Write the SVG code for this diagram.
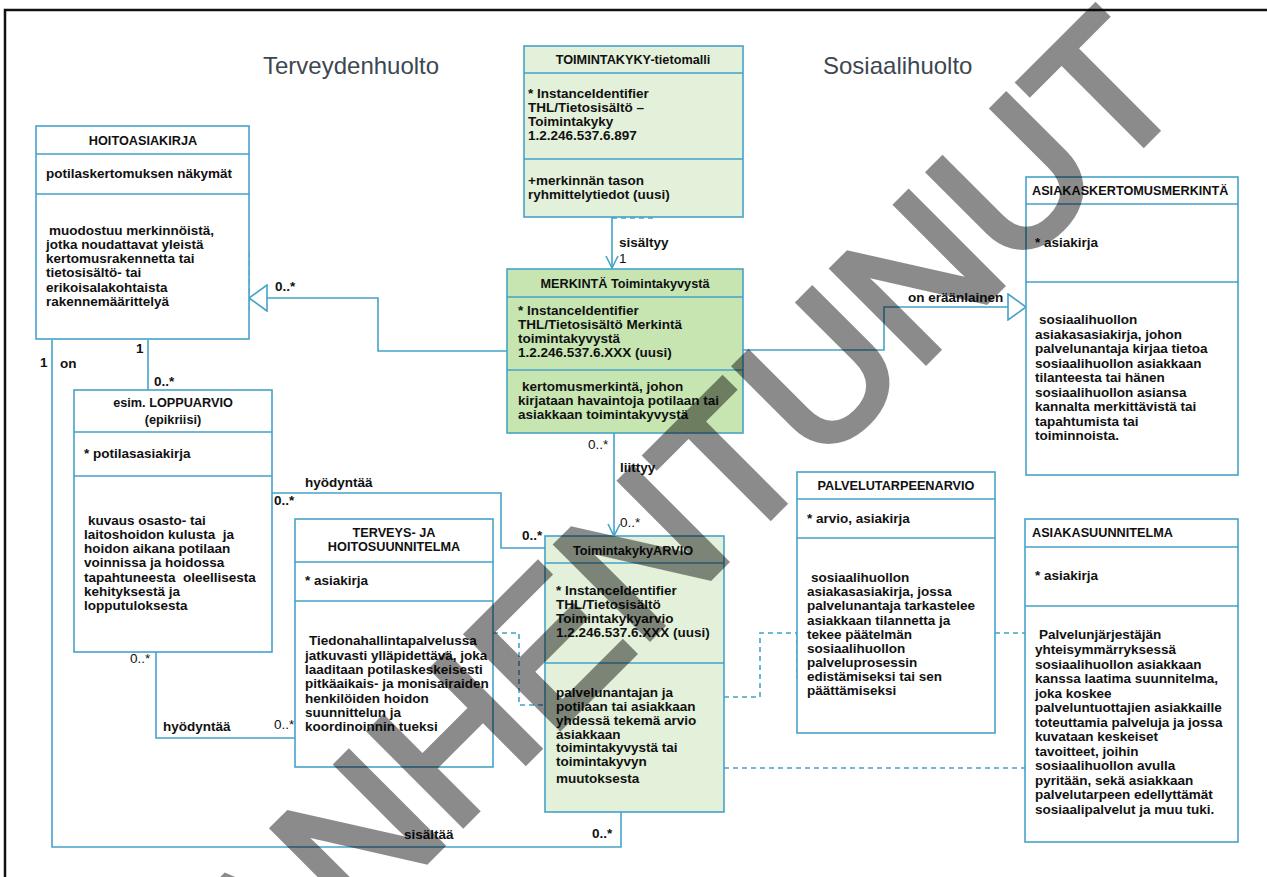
<svg xmlns="http://www.w3.org/2000/svg" width="1267" height="877" viewBox="0 0 1267 877">
<style>
.bx{fill:#fff;stroke:#45a3c9;stroke-width:1.6}
.g1{fill:#e3f0da}
.g2{fill:#c6e5b1}
.dv{stroke:#45a3c9;stroke-width:1.6;fill:none}
.t{font-family:"Liberation Sans",Arial,sans-serif;font-weight:bold;font-size:13.5px;fill:#111}
.h{font-size:12.7px}
.c{text-anchor:middle}
.n{font-weight:normal}
.ln{fill:none;stroke:#45a3c9;stroke-width:1.6}
.ds{stroke-dasharray:5 4}
.sec{font-family:"Liberation Sans",Arial,sans-serif;font-size:24px;fill:#3d4750}
</style>
<defs>
<marker id="tri" viewBox="0 0 20 28" refX="19" refY="14" markerWidth="20" markerHeight="28" orient="auto" markerUnits="userSpaceOnUse"><path d="M1,1 L19,14 L1,27 Z" fill="#fff" stroke="#45a3c9" stroke-width="1.6"/></marker>
<marker id="open" viewBox="0 0 14 14" refX="13" refY="7" markerWidth="14" markerHeight="14" orient="auto" markerUnits="userSpaceOnUse"><path d="M1,1 L13,7 L1,13" fill="none" stroke="#45a3c9" stroke-width="1.6"/></marker>
</defs>
<rect width="1267" height="877" fill="#fff"/>
<path d="M5,877 V10 H1267" fill="none" stroke="#111" stroke-width="2.5"/>
<text class="sec" x="263" y="74">Terveydenhuolto</text>
<text class="sec" x="823" y="74">Sosiaalihuolto</text>

<g id="connectors">
<path class="ln" d="M612,217 V268" marker-end="url(#open)"/>
<path class="ln" d="M507,351 H378 V298 H249" marker-end="url(#tri)"/>
<path class="ln" d="M743,350 H884 V307 H1026" marker-end="url(#tri)"/>
<path class="ln" d="M614,433 V536" marker-end="url(#open)"/>
<path class="ln" d="M148,340 V390"/>
<path class="ln" d="M52,340 V847 H621 V812"/>
<path class="ln" d="M272,493 H501 V548 H545"/>
<path class="ln" d="M156,652 V738 H295"/>
<path class="ln ds" d="M493,633 H519 V705 H545"/>
<path class="ln ds" d="M724,697 H760 V633 H797 V678"/>
<path class="ln ds" d="M995,633 H1025"/>
<path class="ln ds" d="M724,768 H1025"/>
<path class="ln ds" d="M249,252 V310"/>
<path class="ln ds" d="M612,218 H656"/>
<text class="t" x="619" y="247">sisältyy</text>
<text class="t n" x="619" y="263">1</text>
<text class="t" x="275" y="291">0..*</text>
<text class="t" x="908" y="302">on eräänlainen</text>
<text class="t n" x="588" y="449">0..*</text>
<text class="t" x="620" y="472">liittyy</text>
<text class="t n" x="620" y="527">0..*</text>
<text class="t" x="136" y="353">1</text>
<text class="t" x="154" y="386">0..*</text>
<text class="t" x="40" y="367">1</text>
<text class="t" x="60" y="368">on</text>
<text class="t" x="404" y="839">sisältää</text>
<text class="t" x="592" y="838">0..*</text>
<text class="t" x="305" y="487">hyödyntää</text>
<text class="t" x="274" y="505">0..*</text>
<text class="t" x="522" y="540">0..*</text>
<text class="t n" x="130" y="663">0..*</text>
<text class="t" x="163" y="731">hyödyntää</text>
<text class="t n" x="274" y="729">0..*</text>
</g>

<g id="hoitoasiakirja">
<rect class="bx" x="36" y="126" width="213" height="213"/>
<path class="dv" d="M36,154 H249 M36,194 H249"/>
<text class="t h c" x="143" y="145">HOITOASIAKIRJA</text>
<text class="t" x="46" y="178">potilaskertomuksen näkymät</text>
<text class="t" x="49" y="235">muodostuu merkinnöistä,</text>
<text class="t" x="46" y="249">jotka noudattavat yleistä</text>
<text class="t" x="46" y="263">kertomusrakennetta tai</text>
<text class="t" x="46" y="277">tietosisältö- tai</text>
<text class="t" x="46" y="292">erikoisalakohtaista</text>
<text class="t" x="46" y="306">rakennemäärittelyä</text>
</g>

<g id="toimintakyky-tietomalli">
<rect class="bx g1" x="524" y="46" width="219" height="171"/>
<path class="dv" d="M524,73 H743 M524,159 H743"/>
<text class="t h c" x="633" y="64">TOIMINTAKYKY-tietomalli</text>
<text class="t" x="528" y="98">* InstanceIdentifier</text>
<text class="t" x="528" y="112">THL/Tietosisältö –</text>
<text class="t" x="528" y="126">Toimintakyky</text>
<text class="t" x="528" y="140">1.2.246.537.6.897</text>
<text class="t" x="528" y="185">+merkinnän tason</text>
<text class="t" x="528" y="199">ryhmittelytiedot (uusi)</text>
</g>

<g id="merkinta">
<rect class="bx g2" x="507" y="269" width="236" height="164"/>
<path class="dv" d="M507,297 H743 M507,370 H743"/>
<text class="t h c" x="625" y="288">MERKINTÄ Toimintakyvystä</text>
<text class="t" x="518" y="315">* InstanceIdentifier</text>
<text class="t" x="518" y="329">THL/Tietosisältö Merkintä</text>
<text class="t" x="518" y="343">toimintakyvystä</text>
<text class="t" x="518" y="357">1.2.246.537.6.XXX (uusi)</text>
<text class="t" x="522" y="391">kertomusmerkintä, johon</text>
<text class="t" x="518" y="405">kirjataan havaintoja potilaan tai</text>
<text class="t" x="518" y="419">asiakkaan toimintakyvystä</text>
</g>

<g id="asiakaskertomusmerkinta">
<rect class="bx" x="1026" y="177" width="212" height="298"/>
<path class="dv" d="M1026,204 H1238 M1026,282 H1238"/>
<text class="t h" x="1032" y="195">ASIAKASKERTOMUSMERKINTÄ</text>
<text class="t" x="1035" y="247">* asiakirja</text>
<text class="t" x="1039" y="324">sosiaalihuollon</text>
<text class="t" x="1035" y="338.5">asiakasasiakirja, johon</text>
<text class="t" x="1035" y="353">palvelunantaja kirjaa tietoa</text>
<text class="t" x="1035" y="367.5">sosiaalihuollon asiakkaan</text>
<text class="t" x="1035" y="382">tilanteesta tai hänen</text>
<text class="t" x="1035" y="396.5">sosiaalihuollon asiansa</text>
<text class="t" x="1035" y="411">kannalta merkittävistä tai</text>
<text class="t" x="1035" y="425.5">tapahtumista tai</text>
<text class="t" x="1035" y="440">toiminnoista.</text>
</g>

<g id="loppuarvio">
<rect class="bx" x="74" y="390" width="198" height="262"/>
<path class="dv" d="M74,432 H272 M74,476 H272"/>
<text class="t h c" x="173" y="407">esim. LOPPUARVIO</text>
<text class="t h c" x="173" y="424">(epikriisi)</text>
<text class="t" x="84" y="458">* potilasasiakirja</text>
<text class="t" x="88" y="525">kuvaus osasto- tai</text>
<text class="t" x="84" y="539" xml:space="preserve">laitoshoidon kulusta  ja</text>
<text class="t" x="84" y="553">hoidon aikana potilaan</text>
<text class="t" x="84" y="567">voinnissa ja hoidossa</text>
<text class="t" x="84" y="582" xml:space="preserve">tapahtuneesta  oleellisesta</text>
<text class="t" x="84" y="596">kehityksestä ja</text>
<text class="t" x="84" y="610">lopputuloksesta</text>
</g>

<g id="terveys-ja-hoitosuunnitelma">
<rect class="bx" x="295" y="519" width="198" height="248"/>
<path class="dv" d="M295,562 H493 M295,601 H493"/>
<text class="t h c" x="394" y="537">TERVEYS- JA</text>
<text class="t h c" x="394" y="551">HOITOSUUNNITELMA</text>
<text class="t" x="305" y="585">* asiakirja</text>
<text class="t" x="309" y="645">Tiedonahallintapalvelussa</text>
<text class="t" x="305" y="659.5">jatkuvasti ylläpidettävä, joka</text>
<text class="t" x="305" y="674">laaditaan potilaskeskeisesti</text>
<text class="t" x="305" y="688">pitkäaikais- ja monisairaiden</text>
<text class="t" x="305" y="702.5">henkilöiden hoidon</text>
<text class="t" x="305" y="717">suunnittelun ja</text>
<text class="t" x="305" y="731">koordinoinnin tueksi</text>
</g>

<g id="toimintakykyarvio">
<rect class="bx g1" x="545" y="536" width="179" height="276"/>
<path class="dv" d="M545,563 H724 M545,663 H724"/>
<text class="t h c" x="633" y="555">ToimintakykyARVIO</text>
<text class="t" x="556" y="595">* InstanceIdentifier</text>
<text class="t" x="556" y="608.5">THL/Tietosisältö</text>
<text class="t" x="556" y="622.5">Toimintakykyarvio</text>
<text class="t" x="556" y="637">1.2.246.537.6.XXX (uusi)</text>
<text class="t" x="556" y="697">palvelunantajan ja</text>
<text class="t" x="556" y="711">potilaan tai asiakkaan</text>
<text class="t" x="556" y="724.5">yhdessä tekemä arvio</text>
<text class="t" x="556" y="738.5">asiakkaan</text>
<text class="t" x="556" y="752">toimintakyvystä tai</text>
<text class="t" x="556" y="766">toimintakyvyn</text>
<text class="t" x="556" y="783">muutoksesta</text>
</g>

<g id="palvelutarpeenarvio">
<rect class="bx" x="797" y="472" width="198" height="261"/>
<path class="dv" d="M797,499 H995 M797,538 H995"/>
<text class="t h c" x="896" y="490">PALVELUTARPEENARVIO</text>
<text class="t" x="807" y="523">* arvio, asiakirja</text>
<text class="t" x="811" y="582">sosiaalihuollon</text>
<text class="t" x="807" y="596">asiakasasiakirja, jossa</text>
<text class="t" x="807" y="610">palvelunantaja tarkastelee</text>
<text class="t" x="807" y="624.5">asiakkaan tilannetta ja</text>
<text class="t" x="807" y="638.5">tekee päätelmän</text>
<text class="t" x="807" y="653">sosiaalihuollon</text>
<text class="t" x="807" y="667">palveluprosessin</text>
<text class="t" x="807" y="681">edistämiseksi tai sen</text>
<text class="t" x="807" y="695">päättämiseksi</text>
</g>

<g id="asiakassuunnitelma">
<rect class="bx" x="1025" y="519" width="213" height="323"/>
<path class="dv" d="M1025,547 H1238 M1025,606 H1238"/>
<text class="t h" x="1032" y="537">ASIAKASUUNNITELMA</text>
<text class="t" x="1035" y="580">* asiakirja</text>
<text class="t" x="1039" y="639">Palvelunjärjestäjän</text>
<text class="t" x="1035" y="654">yhteisymmärryksessä</text>
<text class="t" x="1035" y="668.5">sosiaalihuollon asiakkaan</text>
<text class="t" x="1035" y="683">kanssa laatima suunnitelma,</text>
<text class="t" x="1035" y="697.5">joka koskee</text>
<text class="t" x="1035" y="712">palveluntuottajien asiakkaille</text>
<text class="t" x="1035" y="726.5">toteuttamia palveluja ja jossa</text>
<text class="t" x="1035" y="741">kuvataan keskeiset</text>
<text class="t" x="1035" y="755.5">tavoitteet, joihin</text>
<text class="t" x="1035" y="770">sosiaalihuollon avulla</text>
<text class="t" x="1035" y="784.5">pyritään, sekä asiakkaan</text>
<text class="t" x="1035" y="799">palvelutarpeen edellyttämät</text>
<text class="t" x="1035" y="813.5">sosiaalipalvelut ja muu tuki.</text>
</g>

<g id="watermark" opacity="0.45">
<text transform="translate(186,1101) rotate(-45)" font-family="Liberation Sans, Arial, sans-serif" font-size="190" fill="#000" stroke="#000" stroke-width="7" stroke-linejoin="miter">VANHENTUNUT</text>
</g>
</svg>
